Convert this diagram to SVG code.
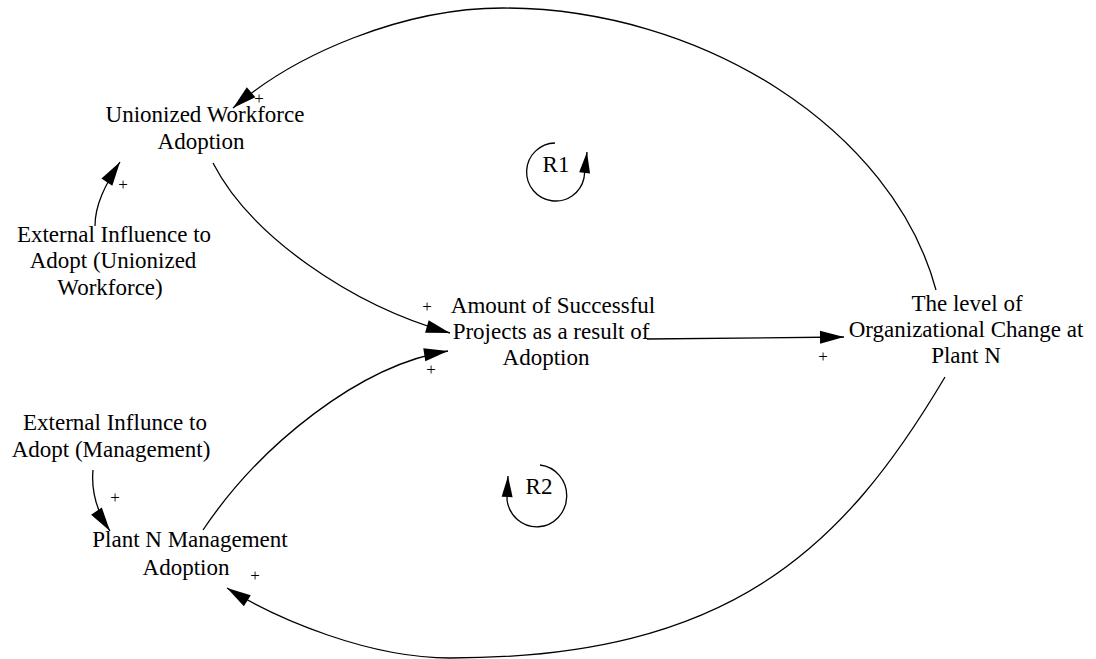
<svg xmlns="http://www.w3.org/2000/svg" width="1096" height="659" viewBox="0 0 1096 659">
  <style>
    .lbl { font-family: "Liberation Serif", "DejaVu Serif", serif; font-size: 23px; fill: #000; text-anchor: middle; }
    .pol { font-family: "Liberation Serif", "DejaVu Serif", serif; font-size: 17px; fill: #000; text-anchor: middle; }
    .link { fill: none; stroke: #000; stroke-width: 1.3; }
  </style>
  <defs>
    <marker id="head" markerUnits="userSpaceOnUse" markerWidth="26" markerHeight="14" refX="24" refY="6.5" orient="auto" overflow="visible">
      <path d="M0,0 L24,6.5 L0,13 Z" fill="#000"/>
    </marker>
    <marker id="loophead" markerUnits="userSpaceOnUse" markerWidth="22" markerHeight="12" refX="21" refY="5.5" orient="auto" overflow="visible">
      <path d="M0,0 L21,5.5 L0,11 Z" fill="#000"/>
    </marker>
  </defs>
  <rect width="1096" height="659" fill="#fff"/>

  <!-- causal links -->
  <g id="connectors">
    <path class="link" d="M936,290 C893,130 703,8 503,8 C403,8 295,54 233,108" marker-end="url(#head)"/>
    <path class="link" d="M95,226 C95,205 105,185 120,162" marker-end="url(#head)"/>
    <path class="link" d="M213,163 C250,235 350,305 450,333" marker-end="url(#head)"/>
    <path class="link" d="M203,530 C260,445 360,365 448,351" marker-end="url(#head)"/>
    <path class="link" d="M647,339 L844,337" marker-end="url(#head)"/>
    <path class="link" d="M945,377 C843,549 730,658 450,658 C370,658 278,620 227,588" marker-end="url(#head)"/>
    <path class="link" d="M93,470 C91,492 97,512 110,531" marker-end="url(#head)"/>
  </g>

  <!-- link polarities -->
  <g id="polarities">
    <text class="pol" x="259" y="104">+</text>
    <text class="pol" x="123" y="190">+</text>
    <text class="pol" x="427" y="312">+</text>
    <text class="pol" x="431" y="375">+</text>
    <text class="pol" x="823" y="362">+</text>
    <text class="pol" x="115" y="503">+</text>
    <text class="pol" x="255" y="581">+</text>
  </g>

  <g id="n_union">
    <text class="lbl" x="205" y="122">Unionized Workforce</text>
    <text class="lbl" x="201" y="149">Adoption</text>
  </g>

  <g id="n_ext_union">
    <text class="lbl" x="114" y="242">External Influence to</text>
    <text class="lbl" x="113" y="268">Adopt (Unionized</text>
    <text class="lbl" x="110" y="295">Workforce)</text>
  </g>

  <g id="n_amount">
    <text class="lbl" x="553" y="313">Amount of Successful</text>
    <text class="lbl" x="551" y="339">Projects as a result of</text>
    <text class="lbl" x="546" y="365">Adoption</text>
  </g>

  <g id="n_level">
    <text class="lbl" x="967" y="311">The level of</text>
    <text class="lbl" x="966" y="337">Organizational Change at</text>
    <text class="lbl" x="966" y="363">Plant N</text>
  </g>

  <g id="n_ext_mgmt">
    <text class="lbl" x="115" y="430">External Influnce to</text>
    <text class="lbl" x="111" y="457">Adopt (Management)</text>
  </g>

  <g id="n_plant">
    <text class="lbl" x="190" y="547">Plant N Management</text>
    <text class="lbl" x="186" y="575">Adoption</text>
  </g>

  <!-- loop identifiers -->
  <g id="loop_r1">
    <path class="link" d="M555,143 A29,29 0 1 0 584,178 L587,152" marker-end="url(#loophead)"/>
    <text class="lbl" x="556" y="172">R1</text>
  </g>
  <g id="loop_r2">
    <path class="link" d="M540,465 A30,31 0 1 1 507,500 L508,476" marker-end="url(#loophead)"/>
    <text class="lbl" x="539" y="494">R2</text>
  </g>
</svg>
